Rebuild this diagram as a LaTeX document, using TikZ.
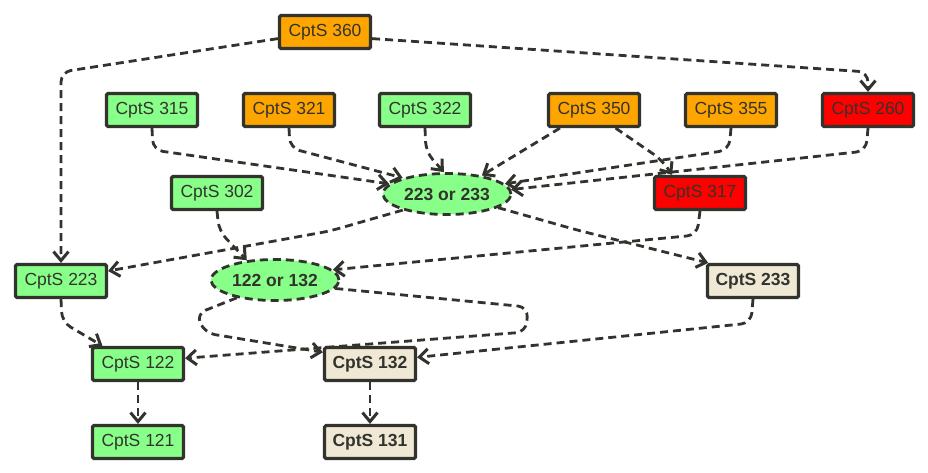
\documentclass[tikz,border=0pt]{standalone}
\usepackage{fontspec}
\setmainfont{Liberation Sans}
\usetikzlibrary{arrows.meta,shapes.geometric}
\definecolor{edgegray}{RGB}{51,51,46}
\definecolor{cgreen}{RGB}{136,255,136}
\definecolor{corange}{RGB}{255,165,0}
\definecolor{cred}{RGB}{255,0,0}
\definecolor{cbeige}{RGB}{238,232,213}
\begin{document}
\begin{tikzpicture}[x=1pt, y=-1pt,
        course/.style={rectangle, draw=edgegray, line width=3.2pt, rounded corners=1.5pt, minimum width=91pt, minimum height=33pt, inner sep=0pt, text=edgegray, font=\fontsize{17.5}{20}\selectfont},
        boldcourse/.style={course, fill=cbeige, font=\fontsize{17.5}{20}\selectfont\bfseries},
        choice/.style={ellipse, draw=edgegray, fill=cgreen, line width=2.8pt, dash pattern=on 8pt off 5pt, minimum width=128pt, minimum height=41pt, inner sep=0pt, text=edgegray, font=\fontsize{17.5}{20}\selectfont\bfseries},
        dep/.style={draw=edgegray, line width=2.8pt, dash pattern=on 8pt off 5pt, rounded corners=10pt, -{Straight Barb[length=9pt,width=15pt,line width=3pt]}}
    ]
        \useasboundingbox (0,0) rectangle (928,472);

        % courses
        \node[course, fill=corange] (c360) at (325,32) {CptS 360};
        \node[course, fill=cgreen] (c315) at (152,110) {CptS 315};
        \node[course, fill=corange] (c321) at (289,110) {CptS 321};
        \node[course, fill=cgreen] (c322) at (425,110) {CptS 322};
        \node[course, fill=corange] (c350) at (594,110) {CptS 350};
        \node[course, fill=corange] (c355) at (731,110) {CptS 355};
        \node[course, fill=cred] (c260) at (868,110) {CptS 260};
        \node[course, fill=cgreen] (c302) at (217,193) {CptS 302};
        \node[course, fill=cred] (c317) at (700,193) {CptS 317};
        \node[course, fill=cgreen] (c223) at (61,281) {CptS 223};
        \node[boldcourse] (c233) at (753,281) {CptS 233};
        \node[course, fill=cgreen] (c122) at (138,364) {CptS 122};
        \node[boldcourse] (c132) at (370,364) {CptS 132};
        \node[course, fill=cgreen] (c121) at (138,442) {CptS 121};
        \node[boldcourse] (c131) at (370,442) {CptS 131};

        % either-or nodes
        \node[choice] (e1) at (447,194) {223 or 233};
        \node[choice] (e2) at (275,280) {122 or 132};

        % prerequisites
        \draw[dep] (c360.188) -- (61,72) -- (c223.north);
        \draw[dep] (c360.352) -- (868,72) -- (c260.north);
        \draw[dep] (c315.south) -- (153,150) -- (e1.170);
        \draw[dep] (c321.south) -- (290,148) -- (e1.160);
        \draw[dep] (c322.south) -- (426,152) -- (e1.98);
        \draw[dep] (c350.208) -- (e1.28);
        \draw[dep] (c350.320) -- (662,160) -- (c317.147);
        \draw[dep] (c355.south) -- (729,150) -- (e1.10);
        \draw[dep] (c260.south) -- (866,151) -- (e1.4);
        \draw[dep] (e1.200) -- (330,231) -- (c223.12);
        \draw[dep] (c302.south) -- (219,231) -- (e2.145);
        \draw[dep] (c317.south) -- (697,235) -- (e2.10);
        \draw[dep] (e1.-15) -- (577,230) -- (c233.158);
        \draw[dep] (e2.205) -- (196,314) -- (205,333) -- (c132.166);
        \draw[dep] (e2.-8) -- (528,307) -- (526,332) -- (c122.7);
        \draw[dep] (c233.south) -- (751,323) -- (c132.8);
        \draw[dep] (c223.south) -- (62,322) -- (c122.153);
        \draw[dep] (c122.south) -- (c121.north);
        \draw[dep] (c132.south) -- (c131.north);
    \end{tikzpicture}
\end{document}
